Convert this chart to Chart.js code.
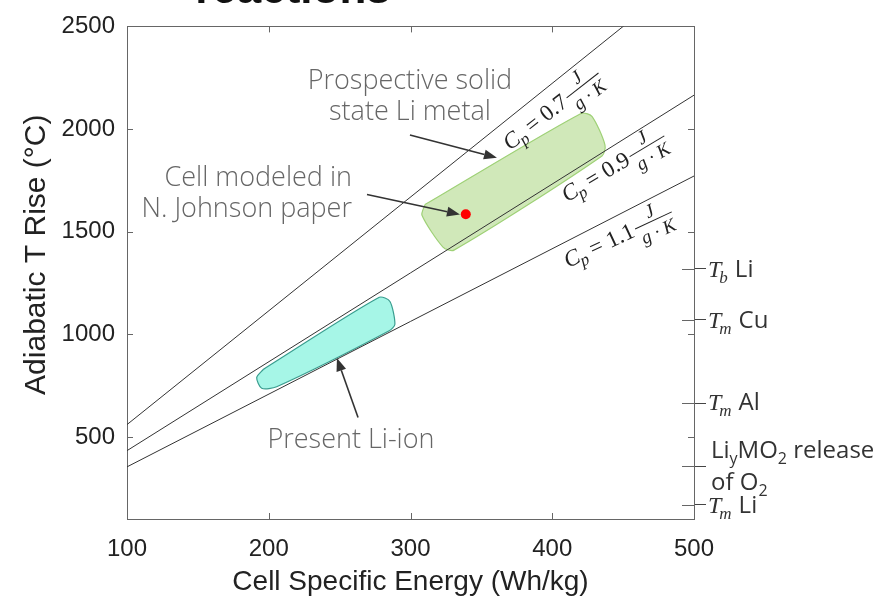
<!DOCTYPE html>
<html>
<head>
<meta charset="utf-8">
<script src="https://cdn.jsdelivr.net/npm/chart.js@4/dist/chart.umd.min.js"></script>
<style>
  body { margin: 0; background: #fff; }
</style>
</head>
<body>
<canvas id="chart" width="878" height="599"></canvas>
<script>
// axis ticks
const xTicks = [100, 200, 300, 400, 500];
const yTicks = [500, 1000, 1500, 2000, 2500];

// constant heat capacity lines (Cp = 0.7, 0.9, 1.1 J/g.K)
const cpEnergy = [100, 500];
const cp07Rise = [560, 2777];
const cp09Rise = [433, 2165];
const cp11Rise = [354, 1771];

// prospective solid state Li metal region (outline)
const solidEnergy = [310.2, 420.3, 428.0, 437.2, 435.1, 330.7, 322.9, 308.1, 310.2];
const solidRise = [1632, 2076, 2062, 1922, 1869, 1410, 1425, 1580, 1632];

// present Li-ion region (outline)
const liIonEnergy = [196.2, 278.0, 285.5, 289.0, 285.0, 205.6, 195.0, 191.5, 196.2];
const liIonRise = [829, 1180, 1160, 1049, 1017, 744, 737, 789, 829];

// cell modeled in N. Johnson paper
const johnsonEnergy = [339];
const johnsonRise = [1585];

// reference temperatures on the right axis
const markerTemps = [1320, 1070, 665, 357, 170];

const toPts = (xs, ys) => xs.map((v, i) => ({x: v, y: ys[i]}));

const lineStyle = {
    showLine: true,
    borderColor: '#333',
    borderWidth: 1,
    pointRadius: 0,
    fill: false,
    order: 1
};

function drawArrow(ctx, x1, y1, x2, y2) {
    const ang = Math.atan2(y2 - y1, x2 - x1);
    const len = 13, hw = 5;
    ctx.save();
    ctx.strokeStyle = '#333';
    ctx.fillStyle = '#333';
    ctx.lineWidth = 1.6;
    ctx.beginPath();
    ctx.moveTo(x1, y1);
    ctx.lineTo(x2 - len * Math.cos(ang), y2 - len * Math.sin(ang));
    ctx.stroke();
    ctx.beginPath();
    ctx.moveTo(x2, y2);
    ctx.lineTo(x2 - len * Math.cos(ang) + hw * Math.sin(ang), y2 - len * Math.sin(ang) - hw * Math.cos(ang));
    ctx.lineTo(x2 - len * Math.cos(ang) - hw * Math.sin(ang), y2 - len * Math.sin(ang) + hw * Math.cos(ang));
    ctx.closePath();
    ctx.fill();
    ctx.restore();
}

// "C_p = v J/(g.K)" label rotated along a line
function drawCp(ctx, px, py, angle, value) {
    ctx.save();
    ctx.translate(px, py);
    ctx.rotate(-angle * Math.PI / 180);
    ctx.fillStyle = '#222';
    ctx.textBaseline = 'alphabetic';
    ctx.textAlign = 'left';
    let cx = 0;
    ctx.font = 'italic 23px "Liberation Serif"';
    ctx.fillText('C', cx, 0);
    cx += ctx.measureText('C').width - 1;
    ctx.font = 'italic 17px "Liberation Serif"';
    ctx.fillText('p', cx, 5);
    cx += ctx.measureText('p').width + 5;
    ctx.font = '23px "Liberation Serif"';
    const rest = '= ' + value;
    ctx.fillText(rest, cx, 0);
    cx += ctx.measureText(rest).width + 2;
    ctx.font = 'italic 19px "Liberation Serif"';
    const den = 'g \u00b7 K';
    const bw = ctx.measureText(den).width + 4;
    ctx.strokeStyle = '#222';
    ctx.lineWidth = 1;
    ctx.beginPath();
    ctx.moveTo(cx, -7);
    ctx.lineTo(cx + bw, -7);
    ctx.stroke();
    ctx.textAlign = 'center';
    ctx.fillText('J', cx + bw / 2, -11);
    ctx.fillText(den, cx + bw / 2, 11);
    ctx.restore();
}

function drawT(ctx, x, y, sub, rest) {
    ctx.save();
    ctx.fillStyle = '#333';
    ctx.textAlign = 'left';
    ctx.font = 'italic 24px "Liberation Serif"';
    ctx.fillText('T', x, y);
    let cx = x + ctx.measureText('T').width - 2;
    ctx.font = 'italic 17px "Liberation Serif"';
    ctx.fillText(sub, cx, y + 6);
    cx += ctx.measureText(sub).width + 7;
    ctx.font = '24px "Open Sans"';
    ctx.fillText(rest, cx, y);
    ctx.restore();
}

const annotations = {
    id: 'annotations',
    afterDraw(chart) {
        const {ctx, chartArea: a} = chart;
        const sx = chart.scales.x, sy = chart.scales.y, sy2 = chart.scales.y2;
        const X = v => sx.getPixelForValue(v);
        const Y = v => sy.getPixelForValue(v);

        // inward tick marks on all four sides
        ctx.save();
        ctx.strokeStyle = '#666';
        ctx.lineWidth = 1;
        ctx.beginPath();
        xTicks.forEach(v => {
            const px = Math.round(X(v)) + 0.5;
            ctx.moveTo(px, a.bottom); ctx.lineTo(px, a.bottom - 6);
            ctx.moveTo(px, a.top); ctx.lineTo(px, a.top + 6);
        });
        yTicks.forEach(v => {
            const py = Math.round(Y(v)) + 0.5;
            ctx.moveTo(a.left, py); ctx.lineTo(a.left + 6, py);
            ctx.moveTo(a.right, py); ctx.lineTo(a.right - 6, py);
        });
        markerTemps.forEach(v => {
            const py = Math.round(sy2.getPixelForValue(v)) + 0.5;
            ctx.moveTo(a.right - 12, py); ctx.lineTo(a.right, py);
        });
        ctx.stroke();
        ctx.restore();

        // cut-off title at the top
        ctx.save();
        ctx.fillStyle = '#111';
        ctx.font = 'bold 44px "Liberation Sans"';
        ctx.textAlign = 'center';
        ctx.textBaseline = 'alphabetic';
        ctx.fillText('reactions', 293, 3);
        ctx.restore();

        // y axis title
        ctx.save();
        ctx.translate(37, (a.top + a.bottom) / 2 - 18);
        ctx.rotate(-Math.PI / 2);
        ctx.fillStyle = '#222';
        ctx.font = '30px "Liberation Sans"';
        ctx.textAlign = 'center';
        ctx.textBaseline = 'middle';
        ctx.fillText('Adiabatic T Rise (\u00b0C)', 0, 0);
        ctx.restore();

        // annotation texts
        ctx.save();
        ctx.fillStyle = '#666';
        ctx.font = '300 27px "Open Sans"';
        ctx.textAlign = 'center';
        ctx.fillText('Prospective solid', X(299.6), Y(2197));
        ctx.fillText('state Li metal', X(299.6), Y(2043));
        ctx.fillText('Present Li-ion', X(258), Y(444));
        ctx.textAlign = 'right';
        ctx.fillText('Cell modeled in', X(258.7), Y(1724));
        ctx.fillText('N. Johnson paper', X(258.7), Y(1569));
        ctx.restore();

        drawArrow(ctx, X(299.6), Y(1971), X(361.0), Y(1860));
        drawArrow(ctx, X(269.3), Y(1681), X(334.9), Y(1584));
        drawArrow(ctx, X(263.0), Y(594), X(248.1), Y(884));

        drawCp(ctx, X(370.2), Y(1893), 38, '0.7');
        drawCp(ctx, X(410.4), Y(1642), 31, '0.9');
        drawCp(ctx, X(411.1), Y(1323), 25, '1.1');

        // right axis labels
        const rx = a.right + 14;
        const ty = markerTemps.map(v => sy2.getPixelForValue(v));
        drawT(ctx, rx, ty[0] + 8, 'b', 'Li');
        drawT(ctx, rx, ty[1] + 8, 'm', 'Cu');
        drawT(ctx, rx, ty[2] + 7, 'm', 'Al');
        drawT(ctx, rx, ty[4] + 8, 'm', 'Li');

        ctx.save();
        ctx.fillStyle = '#333';
        ctx.textAlign = 'left';
        let cx = rx + 3;
        const by = ty[3] - 8;
        const big = '24px "Open Sans"', small = '16px "Open Sans"';
        const parts = [['Li', 0, big], ['y', 6, small], ['MO', 0, big], ['2', 6, small], [' release', 0, big]];
        parts.forEach(([t, dy, f]) => {
            ctx.font = f;
            ctx.fillText(t, cx, by + dy);
            cx += ctx.measureText(t).width;
        });
        cx = rx + 3;
        const by2 = ty[3] + 24;
        [['of O', 0, big], ['2', 6, small]].forEach(([t, dy, f]) => {
            ctx.font = f;
            ctx.fillText(t, cx, by2 + dy);
            cx += ctx.measureText(t).width;
        });
        ctx.restore();
    }
};

const tickFont = { family: 'Liberation Sans', size: 24 };

new Chart(document.getElementById('chart').getContext('2d'), {
    type: 'scatter',
    data: {
        datasets: [
            {
                data: toPts(solidEnergy, solidRise),
                showLine: true,
                fill: 'shape',
                backgroundColor: 'rgba(150, 205, 100, 0.45)',
                borderColor: '#9fd177',
                borderWidth: 1.2,
                tension: 0.25,
                pointRadius: 0,
                order: 3
            },
            {
                data: toPts(liIonEnergy, liIonRise),
                showLine: true,
                fill: 'shape',
                backgroundColor: '#a6f6e7',
                borderColor: '#3a9e90',
                borderWidth: 1.2,
                tension: 0.25,
                pointRadius: 0,
                order: 3
            },
            Object.assign({data: toPts(cpEnergy, cp07Rise)}, lineStyle),
            Object.assign({data: toPts(cpEnergy, cp09Rise)}, lineStyle),
            Object.assign({data: toPts(cpEnergy, cp11Rise)}, lineStyle),
            {
                data: toPts(johnsonEnergy, johnsonRise),
                pointRadius: 5,
                pointBackgroundColor: '#ff0000',
                pointBorderWidth: 0,
                order: 0
            }
        ]
    },
    options: {
        responsive: false,
        animation: false,
        events: [],
        layout: { padding: 0 },
        plugins: {
            legend: { display: false },
            tooltip: { enabled: false }
        },
        scales: {
            x: {
                type: 'linear',
                position: 'bottom',
                min: 100,
                max: 500,
                afterBuildTicks: s => { s.ticks = xTicks.map(v => ({value: v})); },
                afterFit: s => { s.height = 80; },
                grid: { drawOnChartArea: false, drawTicks: false },
                border: { color: '#666', width: 1 },
                ticks: { color: '#222', font: tickFont, padding: 16, callback: v => String(v) },
                title: {
                    display: true,
                    text: 'Cell Specific Energy (Wh/kg)',
                    color: '#222',
                    font: { family: 'Liberation Sans', size: 28 },
                    padding: { top: 0, bottom: 0 }
                }
            },
            x2: {
                type: 'linear',
                position: 'top',
                min: 100,
                max: 500,
                afterFit: s => { s.height = 22; },
                grid: { drawOnChartArea: false, drawTicks: false },
                border: { color: '#666', width: 1 },
                ticks: { display: false }
            },
            y: {
                type: 'linear',
                position: 'left',
                min: 100,
                max: 2500,
                afterBuildTicks: s => { s.ticks = yTicks.map(v => ({value: v})); },
                afterFit: s => { s.width = 127; },
                grid: { drawOnChartArea: false, drawTicks: false },
                border: { color: '#666', width: 1 },
                ticks: { color: '#222', font: tickFont, padding: 12, callback: v => String(v) }
            },
            y2: {
                type: 'linear',
                position: 'right',
                min: 100,
                max: 2500,
                afterBuildTicks: s => { s.ticks = markerTemps.map(v => ({value: v})); },
                afterFit: s => { s.width = 184; },
                grid: { drawOnChartArea: false, drawTicks: true, tickLength: 12, color: '#444' },
                border: { color: '#666', width: 1 },
                ticks: { display: false }
            }
        }
    },
    plugins: [annotations]
});
</script>
</body>
</html>
